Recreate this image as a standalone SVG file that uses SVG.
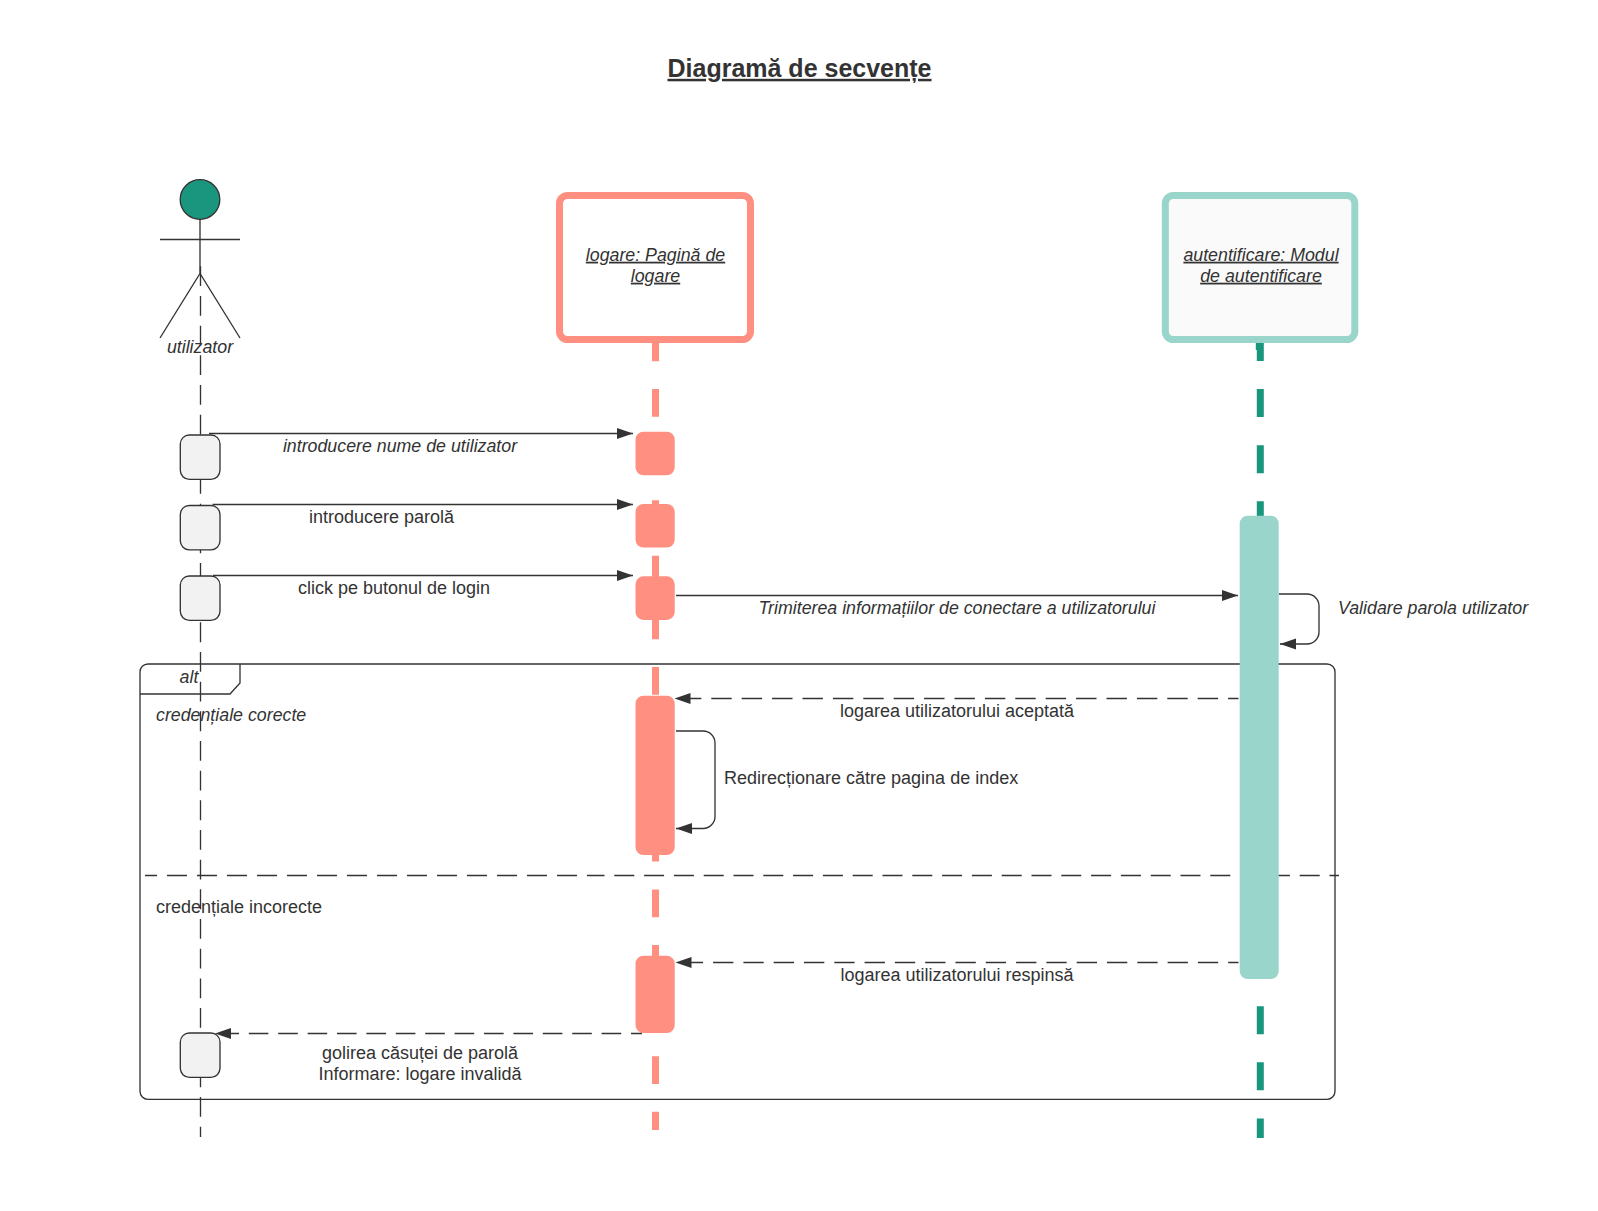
<svg xmlns="http://www.w3.org/2000/svg" width="1598" height="1211" viewBox="0 0 1598 1211">
<defs>
<marker id="ah" markerUnits="userSpaceOnUse" markerWidth="17" markerHeight="12" refX="16" refY="6" orient="auto"><path d="M0 0.5L16 6L0 11.5Z" fill="#333"/></marker>
</defs>
<style>
text{font-family:"Liberation Sans",Arial,sans-serif;font-size:18px;fill:#333}
.m{text-anchor:middle}
.i{font-style:italic;font-size:17.8px}
.u{text-decoration:underline}
.t{font-size:25px;font-weight:bold;text-anchor:middle;text-decoration:underline}
.l{fill:none;stroke:#333;stroke-width:1.33}
.d{stroke-dasharray:19.8 9.87}
.a1{fill:#f2f2f2;stroke:#333;stroke-width:1.33}
.a2{fill:#ff8f80}
.a3{fill:#99d5ca}
</style>
<rect width="1598" height="1211" fill="#fff"/>
<text id="title" class="t" x="799.5" y="76.8">Diagramă de secvențe</text>
<g id="lifelines">
<line class="l d" x1="200.5" y1="266.3" x2="200.5" y2="1137"/>
<line x1="655.5" y1="333.4" x2="655.5" y2="1130" stroke="#ff8f80" stroke-width="7" stroke-dasharray="27.8 27.8"/>
<line x1="1259.3" y1="343" x2="1259.3" y2="350" stroke="#19967d" stroke-width="7"/>
<line x1="1260.3" y1="333" x2="1260.3" y2="1138" stroke="#19967d" stroke-width="7" stroke-dasharray="28 28.1"/>
</g>
<g id="frame">
<rect class="l" x="140" y="664" width="1195" height="435.3" rx="8"/>
<path class="l" d="M140 694H230L240 683V664"/>
<text class="i m" x="189" y="683">alt</text>
<text class="i" x="156" y="720.7">credențiale corecte</text>
<line class="l" x1="145" y1="875.5" x2="595" y2="875.5" stroke-dasharray="20 10" stroke-dashoffset="8"/>
<line class="l" x1="595" y1="875.5" x2="1342" y2="875.5" stroke-dasharray="9.5 9.8 20 9.8 20 9.8 20 9.8 20 9.8 20 9.8 20 9.8 20 9.8 20 9.8 20 9.8 20 9.8 20 9.8 20 9.8 20 9.8 20 9.8 20 9.8 20 9.8 20 9.8 20 9.8 20 9.8 20 9.8 20 9.8 20 9.8 20 9.8 20 9.8"/>
<text x="156" y="912.7">credențiale incorecte</text>
</g>
<g id="actor">
<circle cx="200" cy="199.5" r="19.8" fill="#19967d" stroke="#333" stroke-width="1.33"/>
<path class="l" d="M200 219V274M160 239.5H240M160 338L200 273.5L240 338"/>
<text class="i m" x="200" y="352.5">utilizator</text>
</g>
<g id="logare">
<rect x="559.5" y="195.5" width="191" height="144" rx="8" fill="#fff" stroke="#ff8f80" stroke-width="7"/>
<text class="i u m" x="655.5" y="260.7">logare: Pagină de</text>
<text class="i u m" x="655.5" y="281.7">logare</text>
</g>
<g id="autentificare">
<rect x="1165.3" y="195.5" width="189.5" height="144" rx="8" fill="#fafafa" stroke="#99d5ca" stroke-width="7"/>
<text class="i u m" x="1261" y="260.7">autentificare: Modul</text>
<text class="i u m" x="1261" y="281.7">de autentificare</text>
</g>
<g id="act-user">
<rect class="a1" x="180.3" y="435" width="39.7" height="44.3" rx="9"/>
<rect class="a1" x="180.3" y="505.5" width="39.7" height="44.3" rx="9"/>
<rect class="a1" x="180.3" y="576" width="39.7" height="44.3" rx="9"/>
<rect class="a1" x="180.3" y="1033" width="39.7" height="44.3" rx="9"/>
</g>
<g id="act-logare">
<rect class="a2" x="635.5" y="431.7" width="39.2" height="43.6" rx="8"/>
<rect class="a2" x="635.5" y="504" width="39.2" height="43.6" rx="8"/>
<rect class="a2" x="635.5" y="576.3" width="39.2" height="43.6" rx="8"/>
<rect class="a2" x="635.5" y="695.7" width="39.2" height="159.3" rx="8"/>
<rect class="a2" x="635.5" y="955.7" width="39.2" height="77.3" rx="8"/>
</g>
<g id="act-auth">
<rect class="a3" x="1239.7" y="515.7" width="39" height="463.3" rx="8"/>
</g>
<g id="connectors">
<line class="l" x1="209" y1="433.5" x2="633" y2="433.5" marker-end="url(#ah)"/>
<line class="l" x1="212.5" y1="504.5" x2="633" y2="504.5" marker-end="url(#ah)"/>
<line class="l" x1="213" y1="575.5" x2="633" y2="575.5" marker-end="url(#ah)"/>
<line class="l" x1="676" y1="595.5" x2="1238" y2="595.5" marker-end="url(#ah)"/>
<path class="l" d="M1279 594H1307a12 12 0 0 1 12 12V632a12 12 0 0 1 -12 12H1280" marker-end="url(#ah)"/>
<line class="l" x1="1238.5" y1="698.5" x2="674.5" y2="698.5" stroke-dasharray="20.4 10" stroke-dashoffset="10" marker-end="url(#ah)"/>
<path class="l" d="M676 731H703a12 12 0 0 1 12 12V816a12 12 0 0 1 -12 12.5H676" marker-end="url(#ah)"/>
<line class="l" x1="1238.5" y1="962.5" x2="675.5" y2="962.5" stroke-dasharray="20.3 10" stroke-dashoffset="10" marker-end="url(#ah)"/>
<line class="l" x1="642" y1="1033.5" x2="215" y2="1033.5" stroke-dasharray="19.6 9.8" stroke-dashoffset="8.6" marker-end="url(#ah)"/>
</g>
<g id="labels">
<text class="i m" x="400" y="451.8">introducere nume de utilizator</text>
<text class="m" x="381.5" y="522.8">introducere parolă</text>
<text class="m" x="394" y="594.3">click pe butonul de login</text>
<text class="i m" x="957" y="614.2">Trimiterea informațiilor de conectare a utilizatorului</text>
<text class="i" x="1338" y="614.2">Validare parola utilizator</text>
<text class="m" x="957" y="716.7">logarea utilizatorului aceptată</text>
<text x="724" y="783.7">Redirecționare către pagina de index</text>
<text class="m" x="957" y="981">logarea utilizatorului respinsă</text>
<text class="m" x="420" y="1058.5">golirea căsuței de parolă</text>
<text class="m" x="420" y="1080.3">Informare: logare invalidă</text>
</g>
</svg>
